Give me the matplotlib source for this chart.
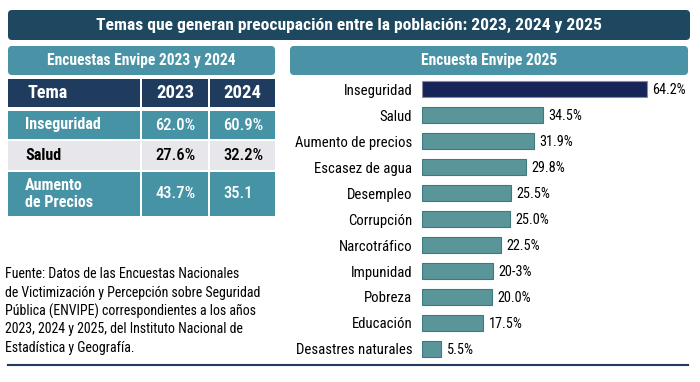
import matplotlib
matplotlib.use("Agg")
import matplotlib.pyplot as plt
from matplotlib.patches import FancyBboxPatch, Rectangle

plt.rcParams['font.family'] = ['Roboto Condensed', 'Archivo Narrow', 'Barlow Condensed', 'DejaVu Sans']

# --- data ---
title = "Temas que generan preocupación entre la población: 2023, 2024 y 2025"
left_header = "Encuestas Envipe 2023 y 2024"
right_header = "Encuesta Envipe 2025"

table_cols = ["Tema", "2023", "2024"]
table_temas = ["Inseguridad", "Salud", "Aumento\nde Precios"]
table_2023 = ["62.0%", "27.6%", "43.7%"]
table_2024 = ["60.9%", "32.2%", "35.1"]

temas_2025 = ["Inseguridad", "Salud", "Aumento de precios", "Escasez de agua",
              "Desempleo", "Corrupción", "Narcotráfico", "Impunidad", "Pobreza",
              "Educación", "Desastres naturales"]
valores_2025 = [64.2, 34.5, 31.9, 29.8, 25.5, 25.0, 22.5, 20.3, 20.0, 17.5, 5.5]
etiquetas_2025 = ["64.2%", "34.5%", "31.9%", "29.8%", "25.5%", "25.0%", "22.5%",
                  "20-3%", "20.0%", "17.5%", "5.5%"]

fuente = ["Fuente: Datos de las Encuestas Nacionales",
          "de Victimización y Percepción sobre Seguridad",
          "Pública (ENVIPE) correspondientes a los años",
          "2023, 2024 y 2025, del Instituto Nacional de",
          "Estadística y Geografía."]

# colours
c_title = "#1e4860"
c_sub = "#4a93a7"
c_head = "#1f3b5e"
c_teal = "#4793a6"
c_gray = "#e6e6eb"
c_bar = "#5a9599"
c_bar_edge = "#3f7a80"
c_top = "#172457"

W, H = 700, 382
fig = plt.figure(figsize=(W / 100, H / 100), dpi=100)
bg = fig.add_axes([0, 0, 1, 1])
bg.set_xlim(0, W)
bg.set_ylim(H, 0)
bg.axis("off")


def box(x0, y0, x1, y1, color, r=4):
    bg.add_patch(FancyBboxPatch((x0 + r, y0 + r), x1 - x0 - 2 * r, y1 - y0 - 2 * r,
                                boxstyle=f"round,pad={r}", fc=color, ec="none"))


# title banner
box(8, 10, 690, 40, c_title)
bg.text(349, 25, title, color="white", fontsize=12.6, fontweight=800,
        ha="center", va="center")

# sub headers
box(8, 46, 275, 75, c_sub)
bg.text(141, 61, left_header, color="white", fontsize=11.2, fontweight=800,
        ha="center", va="center")
box(290, 46, 688, 75, c_sub)
bg.text(489, 61, right_header, color="white", fontsize=11.2, fontweight=800,
        ha="center", va="center")

# table
col_x = [(8, 140), (142, 208), (210, 275)]
row_y = [(79, 107), (111, 139), (141, 170), (172, 216)]
row_colors = [c_head, c_teal, c_gray, c_teal]

for i, (y0, y1) in enumerate(row_y):
    for x0, x1 in col_x:
        bg.add_patch(Rectangle((x0, y0), x1 - x0, y1 - y0, fc=row_colors[i], ec="none"))

bg.text(27, 93, table_cols[0], color="white", fontsize=13, fontweight=800,
        ha="left", va="center")
bg.text(175, 93, table_cols[1], color="white", fontsize=13.5, fontweight=800,
        ha="center", va="center")
bg.text(242, 93, table_cols[2], color="white", fontsize=13.5, fontweight=800,
        ha="center", va="center")

for i, (tema, v23, v24) in enumerate(zip(table_temas, table_2023, table_2024)):
    y0, y1 = row_y[i + 1]
    yc = (y0 + y1) / 2
    tc = "black" if row_colors[i + 1] == c_gray else "white"
    bg.text(25, yc, tema, color=tc, fontsize=11.5, fontweight=800,
            ha="left", va="center", linespacing=1.1)
    bg.text(155, yc, v23, color=tc, fontsize=12, fontweight="medium", ha="left", va="center")
    bg.text(223, yc, v24, color=tc, fontsize=12, fontweight="medium", ha="left", va="center")

# fuente
for i, line in enumerate(fuente):
    bg.text(5, 274 + i * 18.5, line, color="black", fontsize=10, ha="left", va="center")

# bottom rule
bg.plot([8, 688], [365, 365], color=c_head, lw=1.5)

# bar chart
ax_left, ax_right = 422, 687
ax_top, ax_bot = 76, 362
ax = fig.add_axes([ax_left / W, (H - ax_bot) / H, (ax_right - ax_left) / W,
                   (ax_bot - ax_top) / H])
ax.patch.set_alpha(0)
pos = list(range(len(temas_2025)))
colors = [c_top] + [c_bar] * (len(temas_2025) - 1)
edges = ["#8a8a9a"] + [c_bar_edge] * (len(temas_2025) - 1)
bars = ax.barh(pos, valores_2025, height=0.62, color=colors, edgecolor=edges, linewidth=0.8)
for b, lab in zip(bars, etiquetas_2025):
    ax.annotate(lab, (b.get_width(), b.get_y() + b.get_height() / 2),
                xytext=(4, -1), textcoords="offset points", va="center", ha="left",
                fontsize=10.3)
ax.set_xlim(0, (ax_right - ax_left) / 3.5)
ax.set_ylim(len(temas_2025) - 0.5, -0.5)
ax.set_yticks(pos)
ax.set_yticklabels(temas_2025, fontsize=10.6)
ax.tick_params(axis="y", length=0, pad=7)
ax.set_xticks([])
for s in ax.spines.values():
    s.set_visible(False)

fig.savefig("out.png", dpi=100)
